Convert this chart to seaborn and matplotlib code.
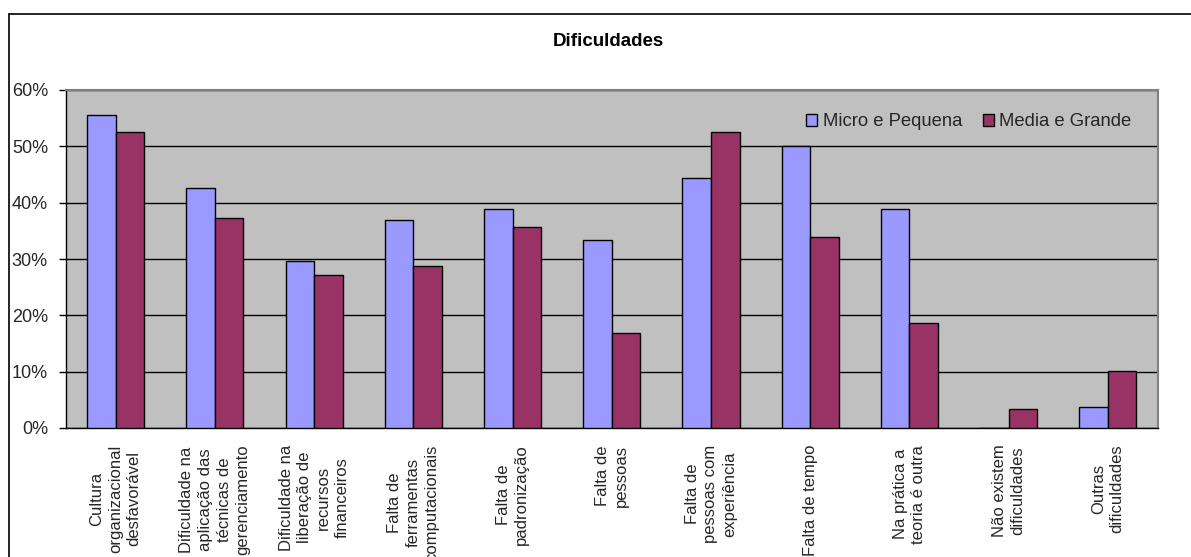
import matplotlib
matplotlib.use("Agg")
import matplotlib.pyplot as plt
import matplotlib.ticker as mticker
from matplotlib.lines import Line2D
import seaborn as sns
import pandas as pd

categories = [
    "Cultura\norganizacional\ndesfavorável",
    "Dificuldade na\naplicação das\ntécnicas de\ngerenciamento",
    "Dificuldade na\nliberação de\nrecursos\nfinanceiros",
    "Falta de\nferramentas\ncomputacionais",
    "Falta de\npadronização",
    "Falta de\npessoas",
    "Falta de\npessoas com\nexperiência",
    "Falta de tempo",
    "Na prática a\nteoria é outra",
    "Não existem\ndificuldades",
    "Outras\ndificuldades",
]
series_names = ["Micro e Pequena", "Media e Grande"]
micro_pequena = [0.556, 0.426, 0.296, 0.370, 0.389, 0.333, 0.444, 0.500, 0.389, 0.0, 0.037]
media_grande = [0.525, 0.373, 0.271, 0.288, 0.356, 0.169, 0.525, 0.339, 0.186, 0.034, 0.102]
y_ticks = [0.0, 0.1, 0.2, 0.3, 0.4, 0.5, 0.6]
title = "Dificuldades"

df = pd.DataFrame({
    "cat": categories * 2,
    "serie": [series_names[0]] * len(categories) + [series_names[1]] * len(categories),
    "val": micro_pequena + media_grande,
})

sns.set_theme(style="white")
plt.rcParams["font.family"] = ["Liberation Sans", "DejaVu Sans"]

fig = plt.figure(figsize=(11.91, 5.57), dpi=100)
ax = fig.add_axes([66 / 1191, 1 - 428 / 557, (1157.5 - 66) / 1191, (428 - 90) / 557])

sns.barplot(data=df, x="cat", y="val", hue="serie", order=categories,
            hue_order=series_names, palette=["#9999FF", "#993366"],
            width=0.575, gap=0, edgecolor="black", linewidth=1.0,
            saturation=1, ax=ax, zorder=3)

ax.set_facecolor("#C0C0C0")
ax.set_xlim(-0.5, len(categories) - 0.5)
ax.set_ylim(0, 0.6)
ax.set_yticks(y_ticks)
ax.yaxis.set_major_formatter(mticker.PercentFormatter(1.0, decimals=0))
ax.grid(axis="y", color="black", linewidth=1.0, zorder=1)
ax.set_axisbelow(True)
ax.set_xlabel("")
ax.set_ylabel("")

ax.set_xticks(range(len(categories)))
ax.set_xticklabels(categories, rotation=90, ha="center", va="top",
                   multialignment="center", fontsize=12, linespacing=1.3)
ax.set_xticks([i - 0.5 for i in range(len(categories) + 1)], minor=True)
ax.tick_params(axis="x", which="major", length=0, pad=12)
ax.tick_params(axis="x", which="minor", length=5, width=1, color="black", direction="out")
ax.tick_params(axis="y", length=5, width=1, color="black", direction="out", pad=8,
               labelsize=13, left=True)

for s in ["top", "right"]:
    ax.spines[s].set_color("#808080")
    ax.spines[s].set_linewidth(1.5)
for s in ["left", "bottom"]:
    ax.spines[s].set_color("black")
    ax.spines[s].set_linewidth(1.0)

leg = ax.legend(loc="center right", bbox_to_anchor=(0.983, 0.906), ncol=2,
                frameon=False, fontsize=13.3, handlelength=0.6, handleheight=0.6,
                handletextpad=0.3, columnspacing=1.1, borderaxespad=0)

fig.text(608 / 1191, 1 - 42 / 557, title, ha="center", va="center",
         fontsize=13.5, fontweight="bold", color="black")

fig.add_artist(Line2D([9 / 1191, 9 / 1191], [0, 1 - 14 / 557], transform=fig.transFigure,
                      color="black", linewidth=1.2))
fig.add_artist(Line2D([9 / 1191, 1], [1 - 14 / 557, 1 - 14 / 557], transform=fig.transFigure,
                      color="black", linewidth=1.2))

fig.savefig("out.png", dpi=100)
